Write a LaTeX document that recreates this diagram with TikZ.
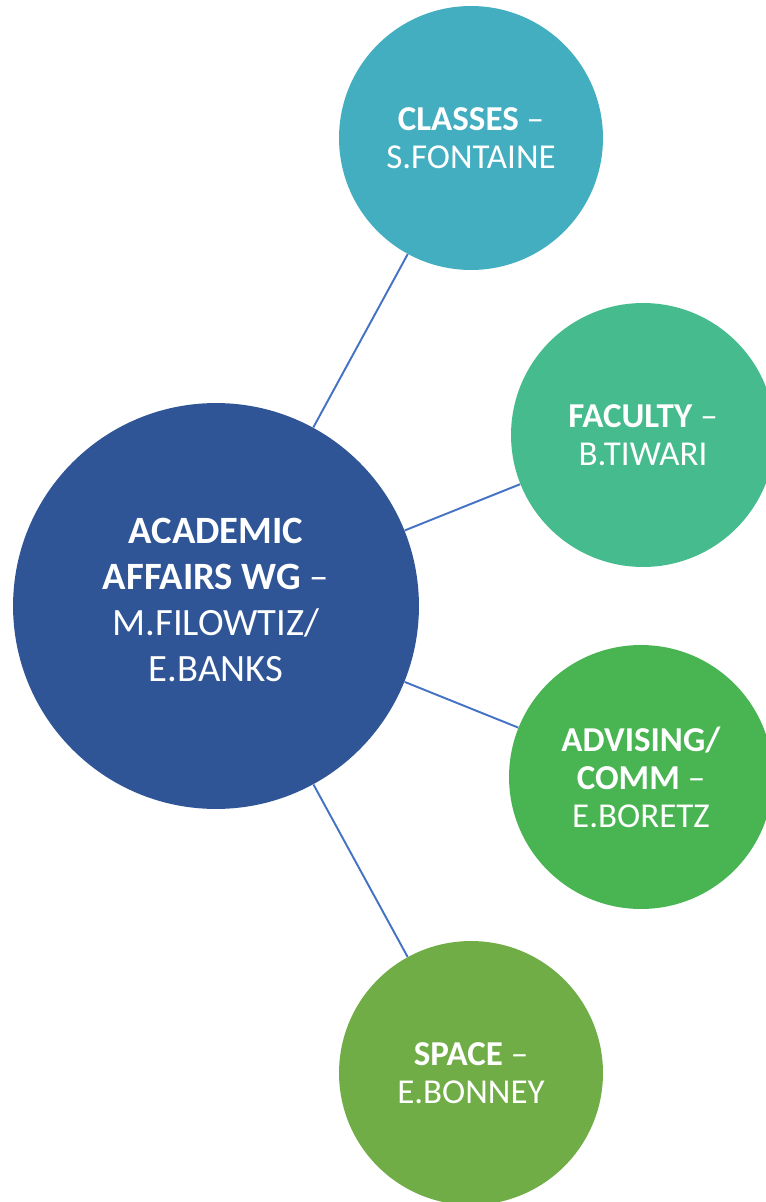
\documentclass[tikz,border=0pt]{standalone}
\usepackage{fontspec}
\setmainfont{Carlito}
\definecolor{hubblue}{RGB}{47,85,151}
\definecolor{linkblue}{RGB}{68,114,196}
\definecolor{classcol}{RGB}{66,174,192}
\definecolor{facultycol}{RGB}{69,187,142}
\definecolor{advisecol}{RGB}{72,180,82}
\definecolor{spacecol}{RGB}{112,173,71}
\begin{document}
\begin{tikzpicture}[x=0.02cm, y=-0.02cm,
  hub/.style={circle, fill=hubblue, text=white, inner sep=0pt, minimum size=8.12cm,
    align=center, font=\fontsize{22}{26.2}\selectfont},
  leaf/.style={circle, text=white, inner sep=0pt, minimum size=5.28cm,
    align=center, font=\fontsize{19.9}{21.7}\selectfont},
  link/.style={draw=linkblue, line width=1.1pt}]
\useasboundingbox (0,0) rectangle (766,1202);

\draw 
(216, 606) node[hub](acad){\textbf{ACADEMIC}\\\textbf{AFFAIRS WG} –\\M.FILOWTIZ/\\E.BANKS\rule[-0.26cm]{0pt}{0pt}}
(471, 138) node[leaf, fill=classcol](classes){\textbf{CLASSES} –\\S.FONTAINE}
(643, 435) node[leaf, fill=facultycol](faculty){\textbf{FACULTY} –\\B.TIWARI}
(641, 777) node[leaf, fill=advisecol](advising){\textbf{ADVISING/}\\\textbf{COMM} –\\E.BORETZ}
(471, 1073) node[leaf, fill=spacecol](space){\textbf{SPACE} –\\E.BONNEY};

\draw[link] (acad) -- (classes);
\draw[link] (acad) -- (faculty);
\draw[link] (acad) -- (advising);
\draw[link] (acad) -- (space);
\end{tikzpicture}
\end{document}
